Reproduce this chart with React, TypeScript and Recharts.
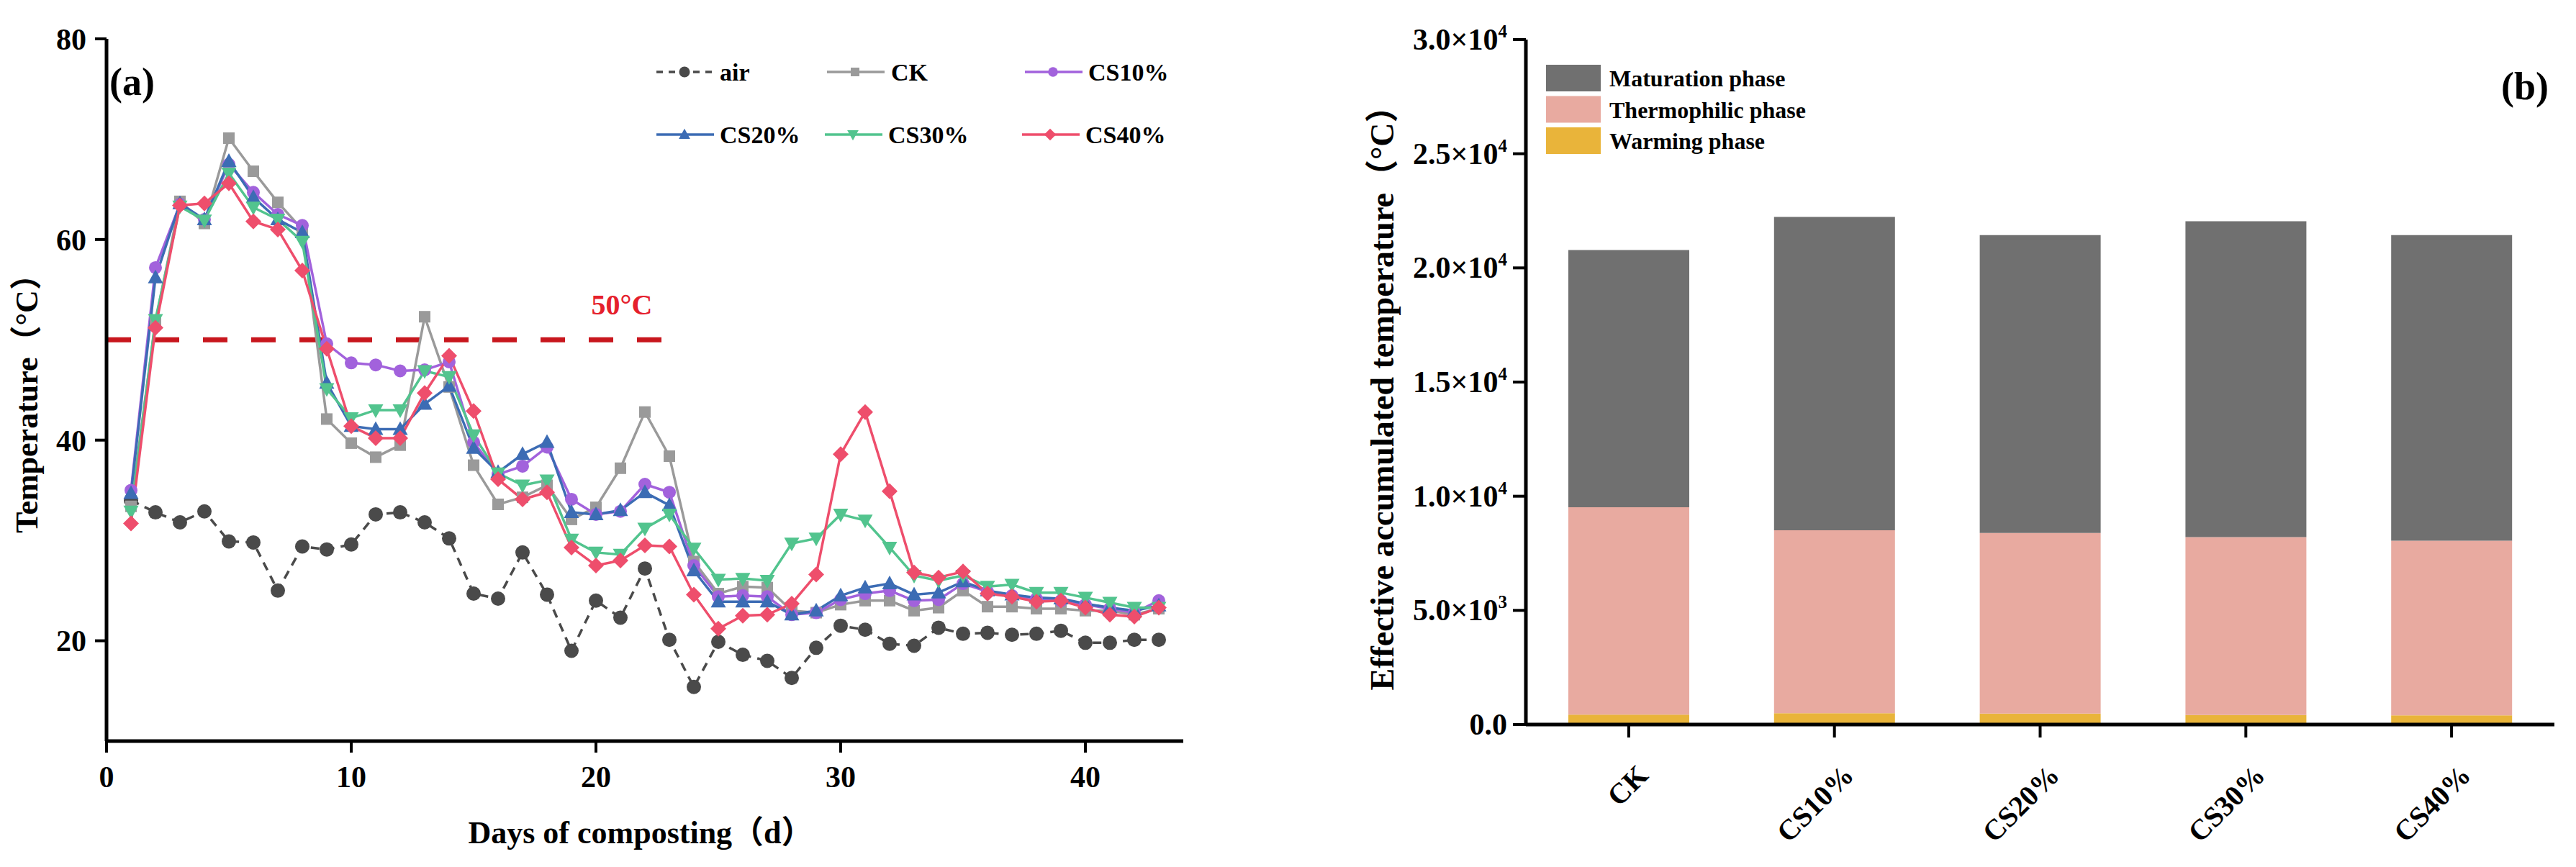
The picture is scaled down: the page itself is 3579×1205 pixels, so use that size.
import React from "react";
import { LineChart, Line, XAxis, YAxis, ReferenceLine, BarChart, Bar } from "recharts";

const FONT = "'Liberation Serif', 'Times New Roman', 'Noto Sans CJK SC', serif";

// ---------- Panel (a): temperature during composting ----------
const days = [1, 2, 3, 4, 5, 6, 7, 8, 9, 10, 11, 12, 13, 14, 15, 16, 17, 18, 19, 20, 21, 22, 23, 24, 25, 26, 27, 28, 29, 30, 31, 32, 33, 34, 35, 36, 37, 38, 39, 40, 41, 42, 43];
const airTemp = [34.0, 32.8, 31.8, 32.9, 29.9, 29.8, 25.0, 29.4, 29.1, 29.6, 32.6, 32.8, 31.8, 30.2, 24.7, 24.2, 28.8, 24.6, 19.0, 24.0, 22.3, 27.2, 20.1, 15.4, 19.9, 18.6, 18.0, 16.3, 19.3, 21.5, 21.1, 19.7, 19.5, 21.3, 20.7, 20.8, 20.6, 20.7, 21.0, 19.8, 19.8, 20.1, 20.1];
const ckTemp = [33.4, 51.8, 63.8, 61.6, 70.1, 66.8, 63.7, 61.0, 42.1, 39.7, 38.3, 39.5, 52.3, 45.3, 37.5, 33.6, 34.3, 35.5, 32.1, 33.3, 37.2, 42.8, 38.4, 27.9, 24.7, 25.4, 25.3, 23.0, 22.8, 23.6, 24.0, 24.0, 23.0, 23.3, 25.0, 23.4, 23.4, 23.2, 23.2, 23.0, 23.0, 22.6, 23.2];
const cs10Temp = [35.0, 57.2, 63.5, 62.0, 67.5, 64.7, 62.5, 61.4, 49.6, 47.7, 47.5, 46.9, 47.0, 47.8, 39.8, 36.6, 37.4, 39.3, 34.1, 32.6, 32.9, 35.6, 34.8, 27.5, 24.4, 24.5, 24.4, 22.6, 22.8, 24.1, 24.7, 25.0, 24.0, 24.1, 25.7, 24.9, 24.5, 24.2, 24.0, 23.6, 23.2, 22.8, 24.0];
const cs20Temp = [34.7, 56.2, 63.6, 62.0, 67.8, 64.2, 62.0, 60.7, 45.7, 41.4, 41.1, 41.1, 43.6, 45.4, 39.2, 36.8, 38.6, 39.8, 32.8, 32.6, 33.0, 34.8, 33.5, 27.0, 23.9, 23.9, 23.9, 22.6, 23.0, 24.5, 25.3, 25.7, 24.6, 24.8, 25.9, 25.0, 24.6, 24.3, 24.2, 23.7, 23.3, 23.0, 23.5];
const cs30Temp = [32.9, 52.0, 63.3, 61.9, 66.6, 63.2, 62.0, 59.8, 45.1, 42.2, 43.0, 43.0, 46.9, 46.3, 40.5, 36.7, 35.5, 36.0, 30.1, 28.8, 28.6, 31.2, 32.6, 29.2, 26.1, 26.2, 26.0, 29.7, 30.2, 32.6, 32.0, 29.3, 26.5, 26.0, 26.5, 25.4, 25.6, 24.8, 24.8, 24.3, 23.8, 23.3, 23.3];
const cs40Temp = [31.7, 51.2, 63.4, 63.6, 65.6, 61.8, 61.0, 56.9, 49.1, 41.4, 40.2, 40.2, 44.7, 48.4, 42.9, 36.1, 34.1, 34.8, 29.3, 27.5, 28.0, 29.5, 29.4, 24.6, 21.2, 22.5, 22.6, 23.7, 26.6, 38.6, 42.8, 34.9, 26.8, 26.3, 26.9, 24.7, 24.4, 23.9, 24.0, 23.3, 22.6, 22.4, 23.3];
const dayTicks = [0, 10, 20, 30, 40];
const tempTicks = [20, 40, 60, 80];
const thresholdTemp = 50;
const thresholdEndDay = 23;

const tempData = days.map((d, i) => ({
  day: d,
  air: airTemp[i],
  CK: ckTemp[i],
  CS10: cs10Temp[i],
  CS20: cs20Temp[i],
  CS30: cs30Temp[i],
  CS40: cs40Temp[i],
}));

type SeriesDef = { key: string; name: string; color: string; shape: string; size: number; dash?: string };
const seriesDefs: SeriesDef[] = [
  { key: "air", name: "air", color: "#4a4a4a", shape: "circle", size: 20, dash: "12 9" },
  { key: "CK", name: "CK", color: "#9a9a9a", shape: "square", size: 16 },
  { key: "CS10", name: "CS10%", color: "#a262dc", shape: "circle", size: 18 },
  { key: "CS20", name: "CS20%", color: "#3c6cb4", shape: "triangle", size: 20 },
  { key: "CS30", name: "CS30%", color: "#52c48e", shape: "triangleDown", size: 20 },
  { key: "CS40", name: "CS40%", color: "#ee4e6c", shape: "diamond", size: 22 },
];

// ---------- Panel (b): effective accumulated temperature ----------
const treatments = ["CK", "CS10%", "CS20%", "CS30%", "CS40%"];
const warmingPhase = [430, 500, 480, 420, 400];
const thermophilicPhase = [9090, 8010, 7910, 7790, 7650];
const maturationPhase = [11260, 13720, 13050, 13830, 13390];
const accTicks = [0, 5000, 10000, 15000, 20000, 25000, 30000];

const barData = treatments.map((t, i) => ({
  name: t,
  warming: warmingPhase[i],
  thermophilic: thermophilicPhase[i],
  maturation: maturationPhase[i],
}));

const barDefs = [
  { key: "maturation", name: "Maturation phase", color: "#707070" },
  { key: "thermophilic", name: "Thermophilic phase", color: "#e8aaa0" },
  { key: "warming", name: "Warming phase", color: "#e9b43a" },
];

// ---------- helpers ----------
function MarkerShape({ cx, cy, shape, size, color }: any) {
  if (cx == null || cy == null || isNaN(cx) || isNaN(cy)) return null;
  const h = size / 2;
  switch (shape) {
    case "square":
      return <rect x={cx - h} y={cy - h} width={size} height={size} fill={color} />;
    case "triangle":
      return <polygon points={`${cx},${cy - h * 1.1} ${cx - h * 1.05},${cy + h * 0.8} ${cx + h * 1.05},${cy + h * 0.8}`} fill={color} />;
    case "triangleDown":
      return <polygon points={`${cx},${cy + h * 1.1} ${cx - h * 1.05},${cy - h * 0.8} ${cx + h * 1.05},${cy - h * 0.8}`} fill={color} />;
    case "diamond":
      return <polygon points={`${cx},${cy - h} ${cx + h},${cy} ${cx},${cy + h} ${cx - h},${cy}`} fill={color} />;
    default:
      return <circle cx={cx} cy={cy} r={h} fill={color} />;
  }
}

const makeDot = (s: SeriesDef) => (props: any) => (
  <MarkerShape key={`${s.key}-${props.index}`} cx={props.cx} cy={props.cy} shape={s.shape} size={s.size} color={s.color} />
);

const textStyle = { fontFamily: FONT, fontWeight: 700, fill: "#000" } as const;

const SciTick = (props: any) => {
  const { x, y, payload } = props;
  const v = payload.value;
  if (v === 0) {
    return (
      <text x={x} y={y} dy={14} textAnchor="end" fontSize={42} {...textStyle}>
        0.0
      </text>
    );
  }
  const exp = Math.floor(Math.log10(v));
  const mant = (v / Math.pow(10, exp)).toFixed(1);
  return (
    <text x={x} y={y} dy={14} textAnchor="end" fontSize={42} {...textStyle}>
      {mant}×10
      <tspan dy={-17} fontSize={25}>{exp}</tspan>
    </text>
  );
};

const RotTick = (props: any) => {
  const { x, y, payload } = props;
  const px = x + 29;
  const py = y + 55;
  return (
    <text x={px} y={py} textAnchor="end" fontSize={40} transform={`rotate(-45, ${px}, ${py})`} {...textStyle}>
      {payload.value}
    </text>
  );
};

const axisLine = { stroke: "#000", strokeWidth: 5 };
const tickLine = { stroke: "#000", strokeWidth: 4 };
const tickFont = { fill: "#000", fontSize: 42, fontWeight: 700, fontFamily: FONT };

function LegendIcon({ x, y, s }: { x: number; y: number; s: SeriesDef }) {
  return (
    <g>
      <line x1={x} y1={y} x2={x + 80} y2={y} stroke={s.color} strokeWidth={3.5} strokeDasharray={s.dash ? "9 8" : undefined} />
      <MarkerShape cx={x + 39} cy={y} shape={s.shape} size={s.size * 0.75} color={s.color} />
    </g>
  );
}

export default function App() {
  const legendPos = [
    { x: 912, y: 100, tx: 1000 },
    { x: 1149, y: 100, tx: 1238 },
    { x: 1424, y: 100, tx: 1512 },
    { x: 912, y: 187, tx: 1000 },
    { x: 1146, y: 187, tx: 1234 },
    { x: 1420, y: 187, tx: 1508 },
  ];
  return (
    <div style={{ position: "absolute", left: 0, top: 0, width: 3579, height: 1205, background: "#fff", overflow: "hidden" }}>
      {/* Panel (a) */}
      <div style={{ position: "absolute", left: 0, top: 0 }}>
        <LineChart width={1700} height={1205} data={tempData} margin={{ top: 54, right: 56, bottom: 0, left: 0 }}>
          <XAxis
            dataKey="day"
            type="number"
            domain={[0, 44]}
            ticks={dayTicks}
            interval={0}
            height={175}
            tickSize={16}
            tickMargin={18}
            axisLine={axisLine}
            tickLine={tickLine}
            tick={tickFont}
            label={() => (
              <text x={890} y={1172} textAnchor="middle" fontSize={44} {...textStyle}>
                Days of composting（d）
              </text>
            )}
          />
          <XAxis xAxisId="top" orientation="top" type="number" domain={[0, 44]} height={0} tick={false} tickLine={false} axisLine={axisLine} />
          <YAxis
            type="number"
            domain={[10, 80]}
            ticks={tempTicks}
            interval={0}
            width={148}
            tickSize={16}
            tickMargin={12}
            axisLine={axisLine}
            tickLine={tickLine}
            tick={tickFont}
            label={() => (
              <text x={52} y={550} textAnchor="middle" fontSize={44} transform="rotate(-90, 52, 550)" {...textStyle}>
                Temperature（°C）
              </text>
            )}
          />
          <YAxis yAxisId="right" orientation="right" type="number" domain={[10, 80]} width={0} tick={false} tickLine={false} axisLine={axisLine} />
          <ReferenceLine
            segment={[
              { x: 0, y: thresholdTemp },
              { x: thresholdEndDay, y: thresholdTemp },
            ]}
            stroke="#c8161d"
            strokeWidth={7}
            strokeDasharray="34 33"
            label={() => (
              <text x={864} y={437} textAnchor="middle" fontSize={40} fontFamily={FONT} fontWeight={700} fill="#e5202c">
                50°C
              </text>
            )}
          />
          {seriesDefs.map((s) => (
            <Line
              key={s.key}
              type="linear"
              dataKey={s.key}
              name={s.name}
              stroke={s.color}
              strokeWidth={s.dash ? 3.5 : 3.5}
              strokeDasharray={s.dash}
              dot={makeDot(s)}
              activeDot={false}
              isAnimationActive={false}
            />
          ))}
        </LineChart>
      </div>

      {/* Panel (b) */}
      <div style={{ position: "absolute", left: 1850, top: 0 }}>
        <BarChart width={1729} height={1205} data={barData} margin={{ top: 55, right: 30, bottom: 0, left: 0 }}>
          <XAxis dataKey="name" height={198} tickSize={18} tickMargin={0} interval={0} axisLine={axisLine} tickLine={tickLine} tick={<RotTick />} />
          <XAxis xAxisId="top" orientation="top" dataKey="name" height={0} tick={false} tickLine={false} axisLine={axisLine} />
          <YAxis
            type="number"
            domain={[0, 30000]}
            ticks={accTicks}
            interval={0}
            width={270}
            tickSize={18}
            tickMargin={8}
            axisLine={axisLine}
            tickLine={tickLine}
            tick={<SciTick />}
            label={() => (
              <text x={86} y={542} textAnchor="middle" fontSize={46} transform="rotate(-90, 86, 542)" {...textStyle}>
                Effective accumulated temperature（°C）
              </text>
            )}
          />
          <YAxis yAxisId="right" orientation="right" type="number" domain={[0, 30000]} width={0} tick={false} tickLine={false} axisLine={axisLine} />
          <Bar dataKey="warming" name="Warming phase" stackId="a" fill="#e9b43a" barSize={168} isAnimationActive={false} />
          <Bar dataKey="thermophilic" name="Thermophilic phase" stackId="a" fill="#e8aaa0" barSize={168} isAnimationActive={false} />
          <Bar dataKey="maturation" name="Maturation phase" stackId="a" fill="#707070" barSize={168} isAnimationActive={false} />
        </BarChart>
      </div>

      {/* Legends and panel letters */}
      <svg width={3579} height={1205} style={{ position: "absolute", left: 0, top: 0, pointerEvents: "none" }}>
        {seriesDefs.map((s, i) => (
          <g key={s.key}>
            <LegendIcon x={legendPos[i].x} y={legendPos[i].y} s={s} />
            <text x={legendPos[i].tx} y={legendPos[i].y + 12} fontSize={34} {...textStyle}>
              {s.name}
            </text>
          </g>
        ))}
        {barDefs.map((b, i) => (
          <g key={b.key}>
            <rect x={2148} y={90 + i * 43.5} width={76} height={37} fill={b.color} />
            <text x={2236} y={120 + i * 43.5} fontSize={32} {...textStyle}>
              {b.name}
            </text>
          </g>
        ))}
        <text x={152} y={132} fontSize={54} {...textStyle}>
          (a)
        </text>
        <text x={3541} y={138} fontSize={54} textAnchor="end" {...textStyle}>
          (b)
        </text>
      </svg>
    </div>
  );
}
